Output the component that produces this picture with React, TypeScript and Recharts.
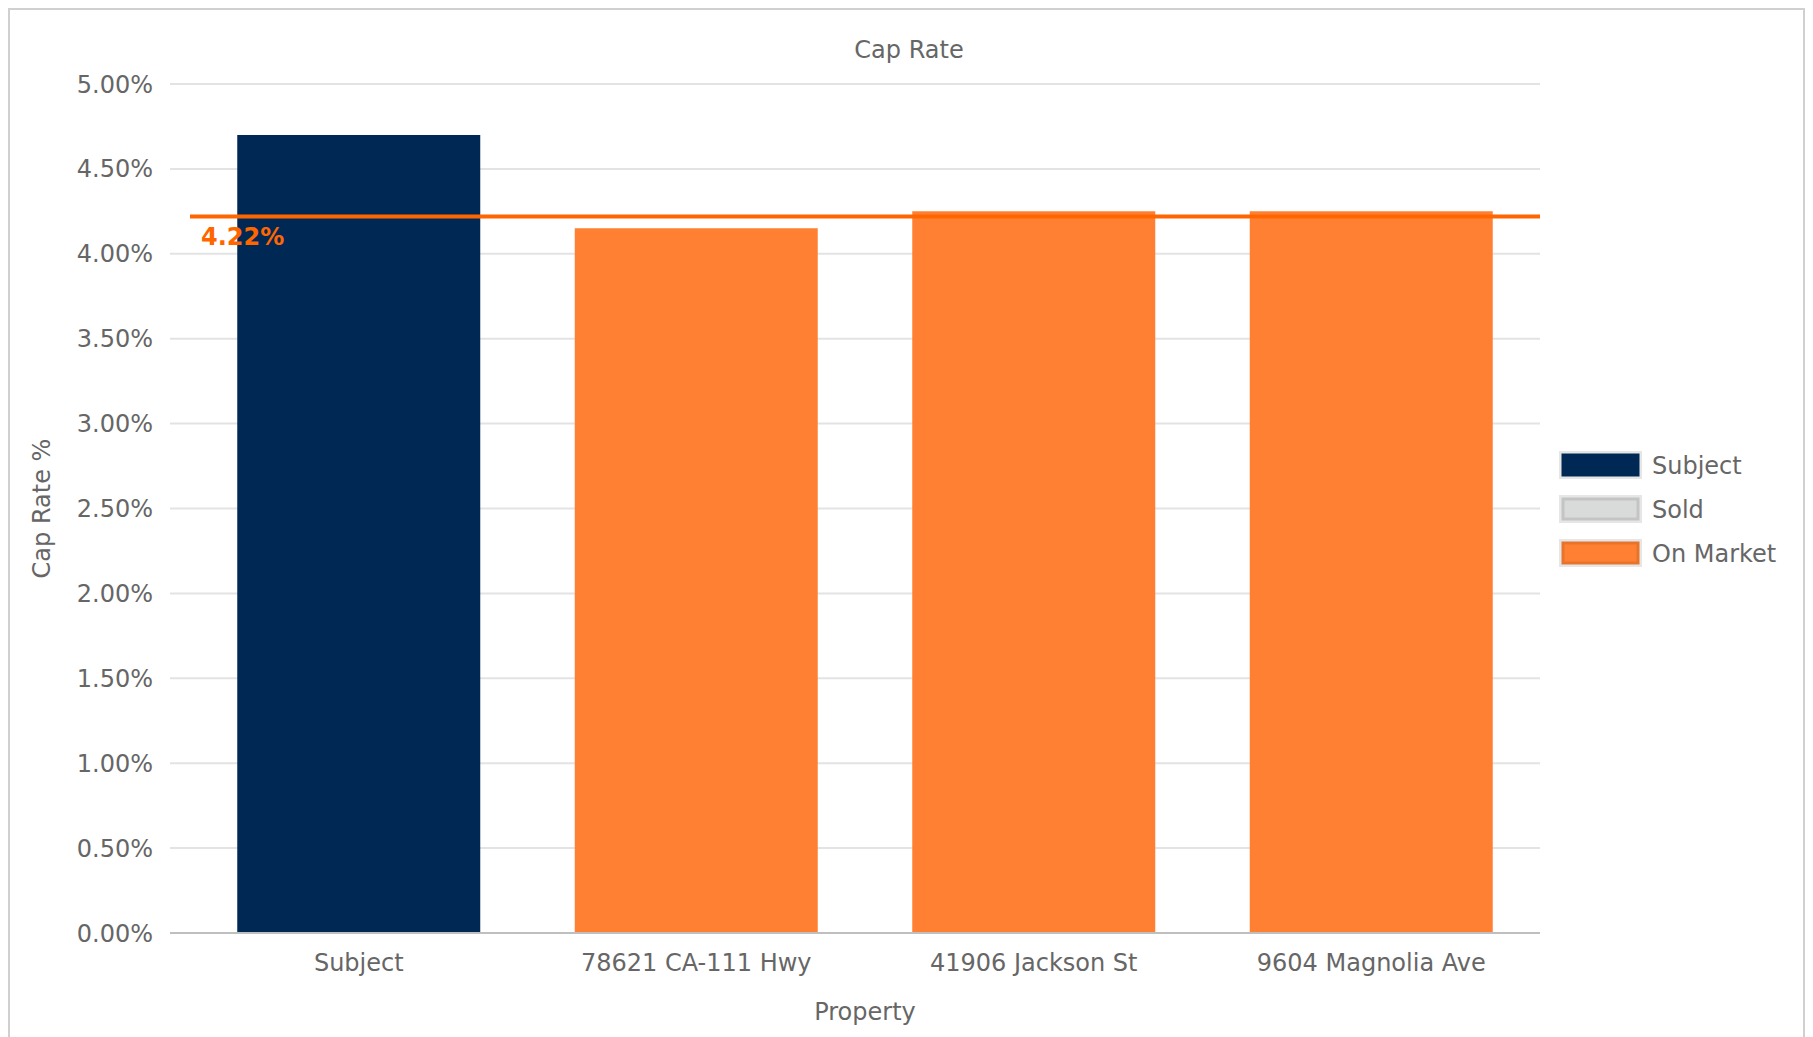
import React from 'react';
import { BarChart, Bar, Cell, XAxis, YAxis, CartesianGrid, ReferenceLine, Legend } from 'recharts';

const properties = ['Subject', '78621 CA-111 Hwy', '41906 Jackson St', '9604 Magnolia Ave'];
const capRates = [4.7, 4.15, 4.25, 4.25];
const statuses = ['Subject', 'On Market', 'On Market', 'On Market'];
const legendLabels = ['Subject', 'Sold', 'On Market'];
const yTicks = [0, 0.5, 1, 1.5, 2, 2.5, 3, 3.5, 4, 4.5, 5];
const avgCapRate = 4.22;

const statusColors: Record<string, { fill: string; stroke: string }> = {
  Subject: { fill: '#002855', stroke: '#002855' },
  Sold: { fill: '#d9dbda', stroke: '#c4c4c4' },
  'On Market': { fill: '#ff8033', stroke: '#e8742c' },
};

const FONT = '"DejaVu Sans", sans-serif';
const TEXT = '#666666';
const AVG_COLOR = '#ff6600';
const AXIS_PAD = 20;

const data = properties.map((name, i) => ({ name, capRate: capRates[i], status: statuses[i] }));

// average line starts where the category band starts (after the axis padding)
const AvgLine = (props: any) => {
  const { x1, x2, y1 } = props;
  return (
    <g>
      <line x1={x1 + AXIS_PAD} x2={x2} y1={y1} y2={y1} stroke={AVG_COLOR} strokeWidth={4} />
      <text x={x1 + AXIS_PAD + 11} y={y1 + 29} fill={AVG_COLOR} fontSize={24} fontWeight="bold" fontFamily={FONT}>
        {avgCapRate.toFixed(2)}%
      </text>
    </g>
  );
};

const LegendBox = () => (
  <svg width={244} height={130}>
    {legendLabels.map((label, i) => {
      const c = statusColors[label];
      return (
        <g key={label} transform={`translate(0, ${i * 44})`}>
          <rect x={0} y={0} width={83} height={28} fill="#e6e6e6" />
          <rect x={4} y={4} width={75} height={20} fill={c.fill} stroke={c.stroke} strokeWidth={3} />
          <text x={93} y={23} fill={TEXT} fontSize={24} fontFamily={FONT}>{label}</text>
        </g>
      );
    })}
  </svg>
);

export default function App() {
  return (
    // fixed card so it can run past the bottom of the window without a scrollbar
    <div
      style={{
        position: 'fixed',
        left: 8,
        top: 8,
        width: 1793,
        height: 1040,
        border: '2px solid #d0d0d0',
        borderBottom: 'none',
        background: '#fff',
        fontFamily: FONT,
      }}
    >
      <div
        style={{
          position: 'absolute',
          left: 0,
          top: 26,
          width: 1798,
          textAlign: 'center',
          fontSize: 24,
          color: TEXT,
          fontFamily: FONT,
        }}
      >
        Cap Rate
      </div>
      <BarChart
        width={1793}
        height={1017}
        data={data}
        margin={{ top: 74, right: 263, bottom: 0, left: 0 }}
        barCategoryGap="14%"
        style={{ fontFamily: FONT }}
      >
        <CartesianGrid vertical={false} stroke="#e3e3e3" strokeWidth={2} />
        <XAxis
          dataKey="name"
          height={94}
          padding={{ left: AXIS_PAD, right: 0 }}
          tickLine={false}
          axisLine={{ stroke: '#bfbfbf', strokeWidth: 2 }}
          tick={{ fill: TEXT, fontSize: 24, fontFamily: FONT }}
          tickMargin={15}
          label={{
            content: ({ viewBox }: any) => (
              <text
                x={viewBox.x + viewBox.width / 2 + 10}
                y={1010}
                textAnchor="middle"
                fill={TEXT}
                fontSize={24}
                fontFamily={FONT}
              >
                Property
              </text>
            ),
          }}
        />
        <YAxis
          width={160}
          domain={[0, 5]}
          ticks={yTicks}
          tickFormatter={(v: number) => `${v.toFixed(2)}%`}
          axisLine={false}
          tickLine={false}
          tickMargin={11}
          tick={{ fill: TEXT, fontSize: 24, fontFamily: FONT }}
          label={{
            content: ({ viewBox }: any) => {
              const cy = viewBox.y + viewBox.height / 2;
              return (
                <text
                  x={40}
                  y={cy}
                  transform={`rotate(-90, 40, ${cy})`}
                  textAnchor="middle"
                  fill={TEXT}
                  fontSize={24}
                  fontFamily={FONT}
                >
                  Cap Rate %
                </text>
              );
            },
          }}
        />
        <Bar dataKey="capRate" isAnimationActive={false}>
          {data.map((d) => (
            <Cell key={d.name} fill={statusColors[d.status].fill} />
          ))}
        </Bar>
        <ReferenceLine y={avgCapRate} ifOverflow="visible" shape={AvgLine} />
        <Legend
          layout="vertical"
          align="center"
          verticalAlign="middle"
          content={LegendBox}
          wrapperStyle={{ left: 1549, top: 441, width: 244, height: 130, right: 'auto', bottom: 'auto' }}
        />
      </BarChart>
    </div>
  );
}
